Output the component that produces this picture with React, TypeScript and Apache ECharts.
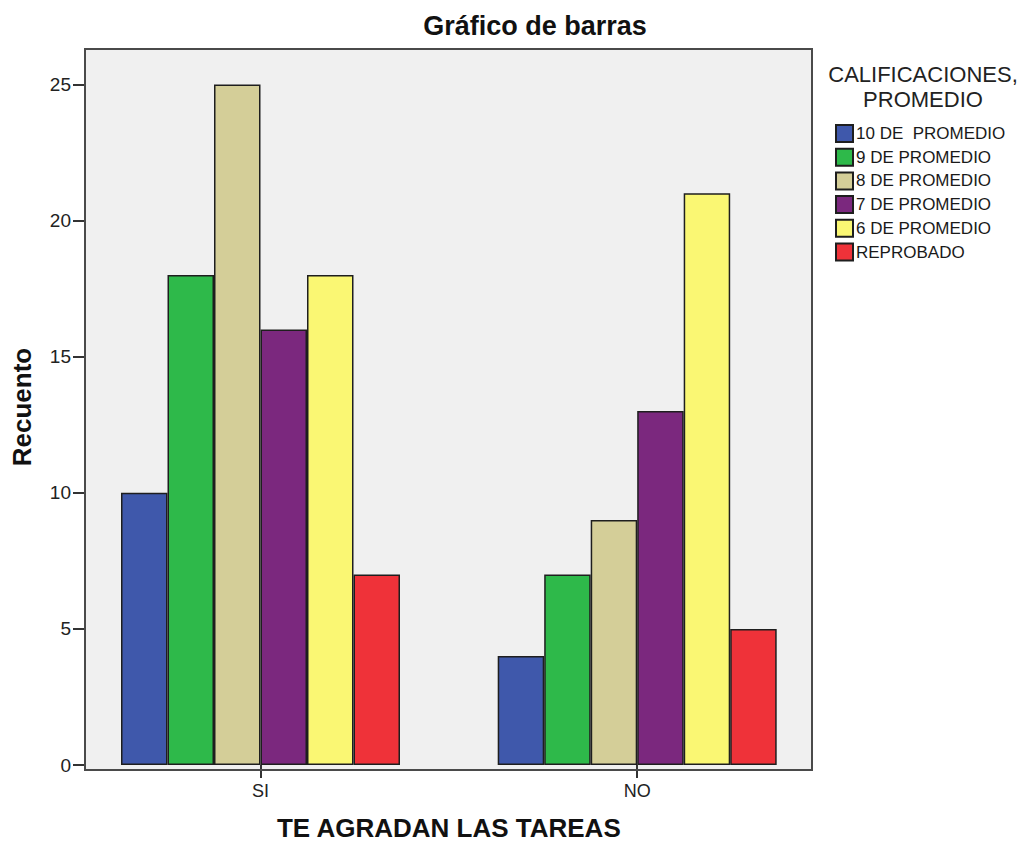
import React, { useEffect, useRef } from "react";
import * as echarts from "echarts";

const categories = ["SI", "NO"];
const seriesNames = [
  "10 DE  PROMEDIO",
  "9 DE PROMEDIO",
  "8 DE PROMEDIO",
  "7 DE PROMEDIO",
  "6 DE PROMEDIO",
  "REPROBADO",
];
const v10 = [10, 4];
const v9 = [18, 7];
const v8 = [25, 9];
const v7 = [16, 13];
const v6 = [18, 21];
const vRep = [7, 5];
const yTicks = [0, 5, 10, 15, 20, 25];
const seriesValues = [v10, v9, v8, v7, v6, vRep];
const colors = ["#3F58AB", "#2EB94A", "#D4CE98", "#7B287E", "#FAF773", "#EF3239"];

const FONT = "'Liberation Sans', Arial, sans-serif";

export default function App() {
  const ref = useRef<HTMLDivElement>(null);
  useEffect(() => {
    if (!ref.current) return;
    const chart = echarts.init(ref.current, undefined, { renderer: "svg" });
    const pL = 85, pT = 49, pR = 812, pB = 770;
    const gridLeft = 72.15, gridRight = 825.55;
    chart.setOption({
      animation: false,
      backgroundColor: "#ffffff",
      textStyle: { fontFamily: FONT },
      grid: {
        left: gridLeft,
        right: 1022 - gridRight,
        top: pT,
        bottom: 846 - pB,
        containLabel: false,
      },
      graphic: [
        {
          type: "rect",
          z: -10,
          silent: true,
          shape: { x: pL, y: pT, width: pR - pL, height: pB - pT },
          style: { fill: "#F0F0F0" },
        },
        {
          type: "rect",
          z: 100,
          silent: true,
          shape: { x: pL, y: pT, width: pR - pL, height: pB - pT },
          style: { fill: "none", stroke: "#4a4a4a", lineWidth: 2 },
        },
        {
          type: "text",
          z: 100,
          x: 535,
          y: 26,
          style: {
            text: "Gráfico de barras",
            font: `bold 27px ${FONT}`,
            fill: "#111",
            textAlign: "center",
            textVerticalAlign: "middle",
          },
        },
        {
          type: "text",
          z: 100,
          x: 923,
          y: 87,
          style: {
            text: "CALIFICACIONES,\nPROMEDIO",
            font: `22px ${FONT}`,
            lineHeight: 25,
            fill: "#222",
            textAlign: "center",
            textVerticalAlign: "middle",
          },
        },
      ],
      legend: {
        orient: "vertical",
        left: 835,
        top: 124,
        padding: 0,
        itemWidth: 17,
        itemHeight: 17,
        itemGap: 4.7,
        icon: "rect",
        data: seriesNames,
        textStyle: { fontSize: 17, color: "#1a1a1a", fontFamily: FONT, padding: [0, 0, 0, -2] },
      },
      xAxis: {
        type: "category",
        data: categories,
        boundaryGap: true,
        name: "TE AGRADAN LAS TAREAS",
        nameLocation: "middle",
        nameGap: 50,
        nameTextStyle: { fontSize: 26, fontWeight: "bold", color: "#111", fontFamily: FONT },
        axisLine: { show: false },
        axisTick: {
          show: true,
          alignWithLabel: true,
          length: 13,
          lineStyle: { color: "#333", width: 2 },
        },
        axisLabel: { fontSize: 18, color: "#222", margin: 17, fontFamily: FONT },
        splitLine: { show: false },
      },
      yAxis: {
        type: "value",
        min: 0,
        max: 26.3,
        interval: 5,
        offset: gridLeft - pL,
        name: "Recuento",
        nameLocation: "middle",
        nameGap: 50,
        nameRotate: 90,
        nameTextStyle: { fontSize: 26, fontWeight: "bold", color: "#111", fontFamily: FONT },
        axisLine: { show: false },
        axisTick: {
          show: true,
          length: 12,
          customValues: yTicks,
          lineStyle: { color: "#333", width: 2 },
        },
        axisLabel: {
          fontSize: 19,
          color: "#222",
          margin: 14,
          customValues: yTicks,
          fontFamily: FONT,
          formatter: (v: number) => (v % 5 === 0 ? String(v) : ""),
        },
        splitLine: { show: false },
      },
      series: seriesNames.map((name, i) => ({
        type: "bar",
        name,
        data: seriesValues[i],
        barWidth: 46.5,
        barGap: "0%",
        itemStyle: { color: colors[i], borderColor: "#1e1e1e", borderWidth: 1.5 },
        emphasis: { disabled: true },
      })),
    });
    return () => chart.dispose();
  }, []);
  return (
    <div
      ref={ref}
      style={{ position: "fixed", left: 0, top: 0, width: 1022, height: 846 }}
    />
  );
}
